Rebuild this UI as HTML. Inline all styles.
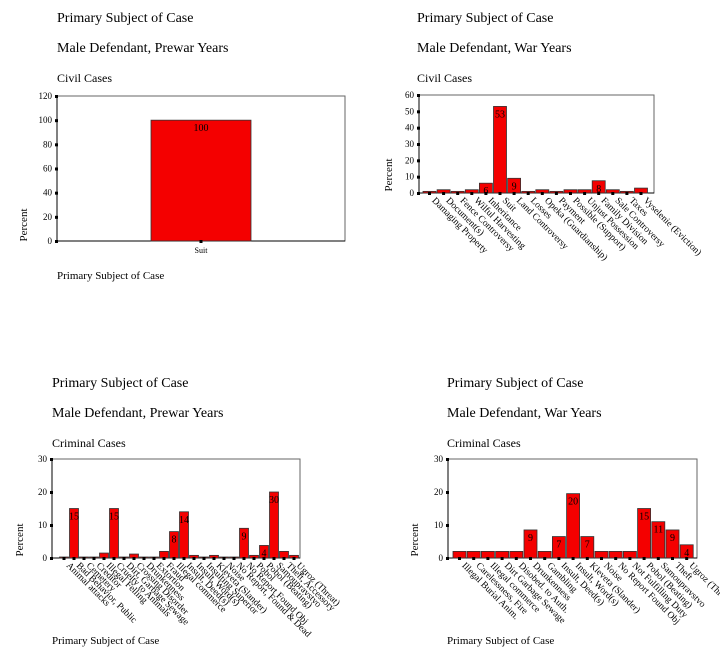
<!DOCTYPE html>
<html><head><meta charset="utf-8"><style>
body{margin:0;background:#fff}
svg{display:block;font-family:"Liberation Serif",serif}
</style></head><body>
<svg id="s" width="720" height="648" xmlns="http://www.w3.org/2000/svg"></svg>
<script>
var s=document.getElementById('s'),h='';
function T(x,y,t,sz,extra){h+='<text x="'+x+'" y="'+y+'" font-size="'+sz+'" '+(extra||'')+'>'+t+'</text>';}
function chart(o){
 T(o.tx,o.ty,'Primary Subject of Case',14);
 T(o.tx,o.ty+30,o.sub,14);
 T(o.tx,o.ty+60,o.kind,12);
 var x0=o.x0,x1=o.x1,y0=o.y0,y1=o.y1,max=o.max;
 h+='<rect x="'+x0+'" y="'+y0+'" width="'+(x1-x0)+'" height="'+(y1-y0)+'" fill="#fff" stroke="#666" stroke-width="1"/>';
 h+='<line x1="'+x0+'" y1="'+y0+'" x2="'+x0+'" y2="'+y1+'" stroke="#000"/><line x1="'+x0+'" y1="'+y1+'" x2="'+x1+'" y2="'+y1+'" stroke="#000"/>';
 for(var v=0;v<=max;v+=o.step){var y=y1-v*(y1-y0)/max;
  h+='<rect x="'+(x0-2)+'" y="'+(y-1)+'" width="3" height="3" fill="#000"/>';
  T(x0-5,y+3,v,o.tfs||9,'text-anchor="end"');}
 T(0,0,'Percent',11,'transform="translate('+o.px+','+o.py+') rotate(-90)" text-anchor="middle"');
 var n=o.vals.length;
 for(var i=0;i<n;i++){var bx=o.bx+i*o.sl,v=o.vals[i],by=y1-v*(y1-y0)/max;
  h+='<rect x="'+bx+'" y="'+by+'" width="'+o.bw+'" height="'+(y1-by)+'" fill="#f40000" stroke="#333" stroke-width="0.8"/>';
  var cx=bx+o.bw/2;
  h+='<rect x="'+(cx-1.5)+'" y="'+(y1-1)+'" width="3" height="3" fill="#000"/>';
  if(o.lab[i]) T(cx,by+11,o.lab[i],10,'text-anchor="middle"');
  if(o.rot) T(0,0,o.names[i],9.5,'transform="translate('+(cx+2)+','+(y1+8)+') rotate(45)"');
 }
 if(!o.rot) T((o.bx+o.bw/2),y1+12,o.names[0],8,'text-anchor="middle"');
 T(o.tx,o.by2,'Primary Subject of Case',11);
}
chart({tx:57,ty:22,sub:'Male Defendant, Prewar Years',kind:'Civil Cases',x0:57,x1:345,y0:96,y1:241,max:120,step:20,px:27,py:225,
 vals:[100],lab:['100'],bx:151,bw:100,sl:100,names:['Suit'],rot:false,by2:279});
chart({tx:417,ty:22,sub:'Male Defendant, War Years',kind:'Civil Cases',x0:419,x1:654,y0:95,y1:193,max:60,step:10,px:392,py:175,
 vals:[1,2,1,2,6,53,9,1,2,1,2,2,7.5,2,1,3],lab:['','','','','6','53','9','','','','','','8','','',''],bx:423,bw:13,sl:14.1,rot:true,
 names:['Damaging Property','Document(s)','Fence Controversy','Wilful Harvesting','Inheritance','Suit','Land Controversy','Losses','Opeka (Guardianship)','Payment','Possible (Support)','Unjust Possession','Family Division','Sale Controversy','Taxes','Vyselenie (Eviction)'],by2:-100});
chart({tx:52,ty:387,sub:'Male Defendant, Prewar Years',kind:'Criminal Cases',x0:52,x1:300,y0:459,y1:558,max:30,step:10,px:23,py:540,
 vals:[0.3,15,0.3,0.3,1.5,15,0.3,1.2,0.3,0.3,2,8,14,0.8,0.3,0.8,0.3,0.3,9,0.8,3.8,20,2,0.8],
 lab:['','15','','','','15','','','','','','8','14','','','','','','9','','4','30','',''],bx:59.5,bw:9,sl:10,rot:true,
 names:['Animal attacks','Bad Behavior, Public','Cemetery','Creditor','Illegal Felling','Cruelty to Animals','Dirt, Garbage Sewage','Crossing Disorder','Drunkenness','Extortion','Fraud','Illegal commerce','Insult, Deed(s)','Insult, Word(s)','Insulting Superior','Kleveta (Slander)','Noise','No Report, Found & Dead','No Report Found Obj','Pobol','Pobol (Beating)','Samoupravstvo','Theft, Accessory','Ugroz (Threat)'],by2:644});
chart({tx:447,ty:387,sub:'Male Defendant, War Years',kind:'Criminal Cases',x0:448,x1:697,y0:459,y1:558,max:30,step:10,px:418,py:540,
 vals:[2,2,2,2,2,8.5,2,6.5,19.5,6.5,2,2,2,15,11,8.5,4],lab:['','','','','','9','','7','20','7','','','','15','11','9','4'],bx:453,bw:13,sl:14.2,rot:true,
 names:['Illegal Burial Anim.','Carelessness, Fire','Illegal commerce','Dirt Garbage Sewage','Disobed. to Auth.','Drunkenness','Gambling','Insult, Deed(s)','Insult, Word(s)','Kleveta (Slander)','Noise','No Report Found Obj','Not Fulfilling Duty','Pobol (Beating)','Samoupravstvo','Theft','Ugroz (Threat)'],by2:644});
s.innerHTML=h;
</script>
</body></html>
